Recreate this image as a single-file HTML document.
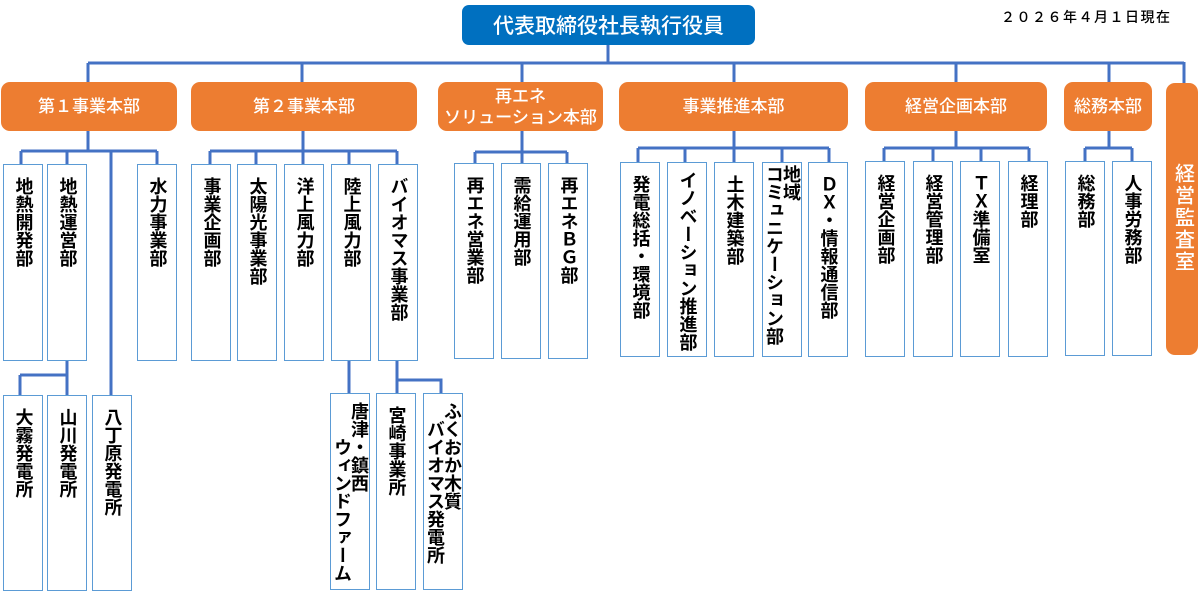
<!DOCTYPE html>
<html><head><meta charset="utf-8"><style>
body{margin:0;width:1200px;height:596px;background:#fff;position:relative;overflow:hidden;font-family:"Liberation Sans","Noto Sans CJK JP",sans-serif}
.o{position:absolute;background:#ed7d31;color:#fff;border-radius:9px;display:flex;align-items:center;justify-content:center;text-align:center;font-size:17px;line-height:21px;font-weight:500}
.c{position:absolute;background:#fff;border:1.5px solid #5b9bd5;box-sizing:border-box;display:flex;justify-content:center;align-items:flex-start;padding-top:12px}
.c div{writing-mode:vertical-rl;font-size:18px;line-height:19px;color:#000;font-weight:600}
svg{position:absolute;left:0;top:0}
</style></head><body>
<svg width="1200" height="596"><g stroke="#4472c4" stroke-width="3" fill="none">
<path d="M608 45V63M88 63H1184M88 63V82M302 63V82M522 63V82M734 63V82M956 63V82M1109 63V82M1184 62V84"/>
<path d="M88 131V151M21 151H157M21 151V164M67 151V164M157 151V164M111 151V395"/>
<path d="M67 361V375M20 375H67M20 375V395M67 375V395"/>
<path d="M303 131V151M210 151H397M210 151V164M256 151V164M303 151V164M349 151V164M397 151V164"/>
<path d="M349 361V393M397 361V380H441V393M397 380V393"/>
<path d="M522 131V152M475 152H567M475 152V163M522 152V163M567 152V163"/>
<path d="M734 131V148M638 148H829M638 148V162M685 148V162M734 148V162M782 148V162M829 148V162"/>
<path d="M956 131V148M884 148H1029M884 148V161M933 148V161M981 148V161M1029 148V161"/>
<path d="M1109 131V148M1085 148H1132M1085 148V161M1132 148V161"/>
</g></svg>
<div style="position:absolute;left:462px;top:5px;width:293px;height:40px;background:#0070c0;border-radius:7px;color:#fff;font-size:21px;font-weight:500;display:flex;align-items:center;justify-content:center">代表取締役社長執行役員</div>
<div style="position:absolute;left:1001px;top:7px;font-size:14px;color:#000;letter-spacing:1.5px;font-weight:500">２０２６年４月１日現在</div>
<div class="o" style="left:1px;top:82px;width:176px;height:49px">第１事業本部</div>
<div class="o" style="left:191px;top:82px;width:226px;height:49px">第２事業本部</div>
<div class="o" style="left:438px;top:82px;width:165px;height:49px">再エネ<br>ソリューション本部</div>
<div class="o" style="left:619px;top:82px;width:229px;height:49px">事業推進本部</div>
<div class="o" style="left:865px;top:82px;width:182px;height:49px">経営企画本部</div>
<div class="o" style="left:1064px;top:82px;width:88px;height:49px">総務本部</div>
<div class="o" style="left:1166px;top:83px;width:32px;height:272px;align-items:flex-start;padding-top:80px;box-sizing:border-box"><div style="writing-mode:vertical-rl;font-size:20px;letter-spacing:2px">経営監査室</div></div>

<div class="c" style="left:3px;top:164px;width:40px;height:197px"><div>地熱開発部</div></div>
<div class="c" style="left:47px;top:164px;width:40px;height:197px"><div>地熱運営部</div></div>
<div class="c" style="left:137px;top:164px;width:40px;height:197px"><div>水力事業部</div></div>
<div class="c" style="left:191px;top:164px;width:40px;height:197px"><div>事業企画部</div></div>
<div class="c" style="left:237px;top:164px;width:40px;height:197px"><div>太陽光事業部</div></div>
<div class="c" style="left:284px;top:164px;width:40px;height:197px"><div>洋上風力部</div></div>
<div class="c" style="left:331px;top:164px;width:40px;height:197px"><div>陸上風力部</div></div>
<div class="c" style="left:378px;top:164px;width:40px;height:197px"><div>バイオマス事業部</div></div>

<div class="c" style="left:3px;top:395px;width:40px;height:196px"><div>大霧発電所</div></div>
<div class="c" style="left:47px;top:395px;width:40px;height:196px"><div>山川発電所</div></div>
<div class="c" style="left:92px;top:395px;width:40px;height:196px"><div>八丁原発電所</div></div>
<div class="c" style="left:330px;top:393px;width:40px;height:197px;padding-top:8px"><div style="line-height:17px">唐津・鎮西<br>　　ウィンドファーム</div></div>
<div class="c" style="left:376px;top:393px;width:40px;height:197px"><div>宮崎事業所</div></div>
<div class="c" style="left:423px;top:393px;width:40px;height:197px;padding-top:8px"><div style="line-height:17px">ふくおか木質<br>　バイオマス発電所</div></div>

<div class="c" style="left:454px;top:163px;width:40px;height:196px"><div>再エネ営業部</div></div>
<div class="c" style="left:501px;top:163px;width:40px;height:196px"><div>需給運用部</div></div>
<div class="c" style="left:548px;top:163px;width:40px;height:196px"><div>再エネＢＧ部</div></div>

<div class="c" style="left:620px;top:162px;width:40px;height:195px"><div>発電総括・環境部</div></div>
<div class="c" style="left:667px;top:162px;width:40px;height:195px;padding-top:8px"><div>イノベーション推進部</div></div>
<div class="c" style="left:714px;top:162px;width:40px;height:195px"><div>土木建築部</div></div>
<div class="c" style="left:762px;top:162px;width:40px;height:195px;padding-top:2px"><div style="line-height:17px">地域<br>コミュニケーション部</div></div>
<div class="c" style="left:808px;top:162px;width:40px;height:195px"><div>ＤＸ・情報通信部</div></div>

<div class="c" style="left:865px;top:161px;width:40px;height:196px"><div>経営企画部</div></div>
<div class="c" style="left:913px;top:161px;width:40px;height:196px"><div>経営管理部</div></div>
<div class="c" style="left:960px;top:161px;width:40px;height:196px"><div>ＴＸ準備室</div></div>
<div class="c" style="left:1008px;top:161px;width:40px;height:196px"><div>経理部</div></div>
<div class="c" style="left:1065px;top:161px;width:40px;height:195px"><div>総務部</div></div>
<div class="c" style="left:1112px;top:161px;width:40px;height:195px"><div>人事労務部</div></div>
</body></html>
